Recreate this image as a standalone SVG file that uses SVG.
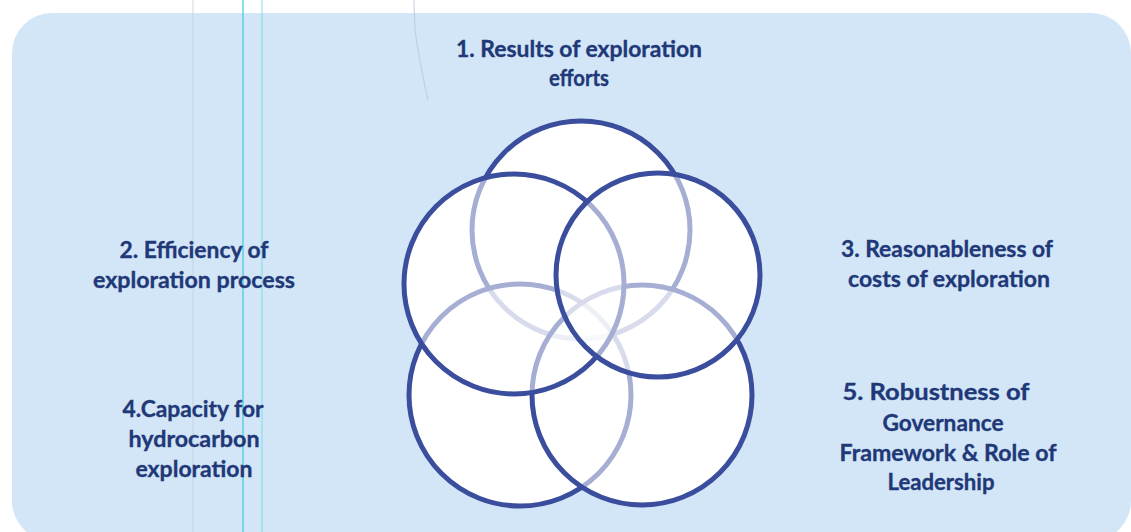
<svg xmlns="http://www.w3.org/2000/svg" width="1131" height="532" viewBox="0 0 1131 532">
  <defs>
    <style>
      .bg { fill: #d3e6f7; }
      .scan { fill: none; stroke-width: 1.2; }
      .under { fill: #ffffff; stroke: none; }
      .ring { fill: #ffffff; fill-opacity: 0.55; stroke: #3b4e9e; stroke-width: 5; }
      .lbl { font-family: "Lato", "Open Sans", "Liberation Sans", sans-serif; font-weight: bold; font-size: 23px; fill: #1f3878; stroke: #1f3878; stroke-width: 0.35; text-anchor: middle; }
    </style>
  </defs>
  <rect x="0" y="0" width="1131" height="532" fill="#ffffff"/>
  <rect class="bg" x="12" y="13" width="1119" height="528" rx="40" ry="40"/>
  <g id="scan-lines">
    <line class="scan" x1="193" y1="0" x2="193" y2="532" stroke="#c4cde0" stroke-opacity="0.7"/>
    <line class="scan" x1="243" y1="0" x2="243" y2="532" stroke="#3cc8dc" stroke-width="1.6"/>
    <line class="scan" x1="262" y1="0" x2="262" y2="532" stroke="#7dd8e6" stroke-opacity="0.8"/>
    <path class="scan" d="M414 0 L415 30 Q419 60 428 100" stroke="#b8c4d8" stroke-opacity="0.7"/>
  </g>
  <g id="connectors"></g>
  <g id="underlay">
    <circle class="under" cx="581" cy="230" r="109"/>
    <circle class="under" cx="520" cy="395" r="111"/>
    <circle class="under" cx="642" cy="395" r="110"/>
    <circle class="under" cx="514" cy="284" r="110"/>
    <circle class="under" cx="658" cy="275" r="102"/>
  </g>
  <g id="node-1"><circle class="ring" cx="581" cy="230" r="109"/></g>
  <g id="node-4"><circle class="ring" cx="520" cy="395" r="111"/></g>
  <g id="node-5"><circle class="ring" cx="642" cy="395" r="110"/></g>
  <g id="node-2"><circle class="ring" cx="514" cy="284" r="110"/></g>
  <g id="node-3"><circle class="ring" cx="658" cy="275" r="102"/></g>
  <g id="label-1">
    <text class="lbl" x="579" y="57" textLength="246" lengthAdjust="spacingAndGlyphs">1. Results of exploration</text>
    <text class="lbl" x="579" y="86" textLength="60" lengthAdjust="spacingAndGlyphs">efforts</text>
  </g>
  <g id="label-2">
    <text class="lbl" x="194" y="258" textLength="149" lengthAdjust="spacingAndGlyphs">2. Efficiency of</text>
    <text class="lbl" x="194" y="288" textLength="202" lengthAdjust="spacingAndGlyphs">exploration process</text>
  </g>
  <g id="label-3">
    <text class="lbl" x="947" y="257" textLength="212" lengthAdjust="spacingAndGlyphs">3. Reasonableness of</text>
    <text class="lbl" x="949" y="287" textLength="202" lengthAdjust="spacingAndGlyphs">costs of exploration</text>
  </g>
  <g id="label-4">
    <text class="lbl" x="193" y="417" textLength="141" lengthAdjust="spacingAndGlyphs">4.Capacity for</text>
    <text class="lbl" x="194" y="447" textLength="131" lengthAdjust="spacingAndGlyphs">hydrocarbon</text>
    <text class="lbl" x="194" y="477" textLength="117" lengthAdjust="spacingAndGlyphs">exploration</text>
  </g>
  <g id="label-5">
    <text class="lbl" x="936" y="400" textLength="187" lengthAdjust="spacingAndGlyphs">5. Robustness of</text>
    <text class="lbl" x="943" y="431" textLength="121" lengthAdjust="spacingAndGlyphs">Governance</text>
    <text class="lbl" x="948" y="461" textLength="217" lengthAdjust="spacingAndGlyphs">Framework &amp; Role of</text>
    <text class="lbl" x="941" y="490" textLength="107" lengthAdjust="spacingAndGlyphs">Leadership</text>
  </g>
</svg>
